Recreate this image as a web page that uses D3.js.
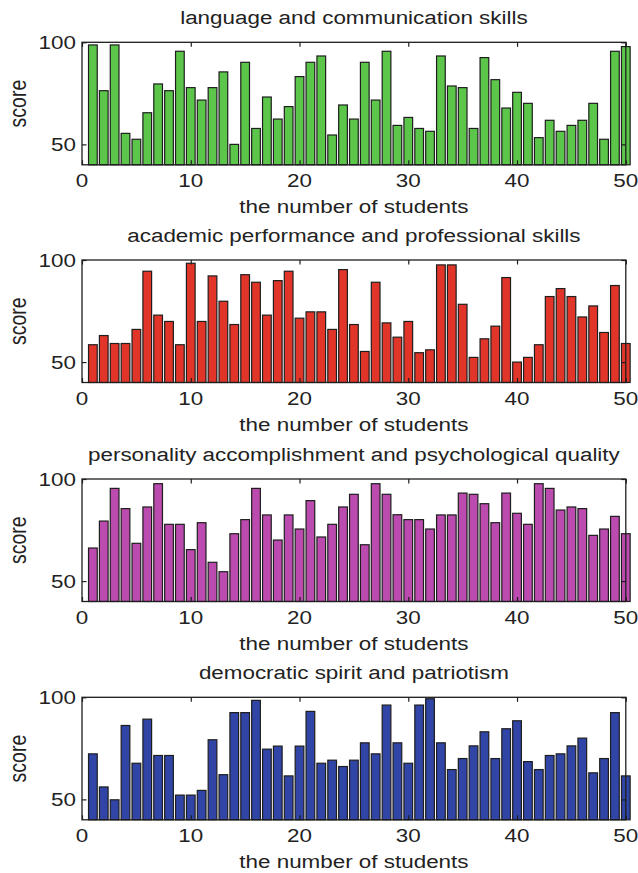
<!DOCTYPE html>
<html>
<head>
<meta charset="utf-8">
<script src="https://cdn.jsdelivr.net/npm/d3@7"></script>
<style>
  html, body { margin: 0; padding: 0; background: #fff; }
  text { font-family: "Liberation Sans", Arial, Helvetica, sans-serif; fill: #222; }
</style>
</head>
<body>
<svg id="chart" width="638" height="873"></svg>
<script>
// ---- data ----
const students = d3.range(1, 51);
const titles = [
  "language and communication skills",
  "academic performance and professional skills",
  "personality accomplishment and psychological quality",
  "democratic spirit and patriotism"
];
const language = [98.7,76.3,98.7,55.4,52.5,65.5,79.6,76.3,95.6,77.8,
  71.7,77.8,85.5,50,90.2,57.8,73.2,62.4,68.5,83.2,
  90.2,93.3,54.6,69.3,62.4,90.2,71.7,95.6,59.3,63.2,
  57.8,56.4,93.3,78.6,77.8,57.8,92.5,81.7,67.8,75.5,
  70.1,53.3,61.8,56.4,59.3,61.8,70.1,52.5,95.6,97.9];
const academic = [58.5,63.0,59.1,59.1,66.0,94.5,73.0,69.9,58.5,98.4,
  69.9,92.2,79.8,68.4,92.8,89.1,73.0,89.9,94.5,71.5,
  74.6,74.6,66.0,95.3,68.4,55.2,89.1,69.2,62.2,69.9,
  54.6,56.0,97.6,97.6,78.3,52.3,61.4,67.6,91.4,50.0,
  52.3,58.5,82.1,86.0,82.1,72.1,77.5,64.5,87.5,59.1];
const personality = [66.2,79.4,95.4,85.5,68.5,86.3,97.7,77.8,77.8,65.4,
  78.6,59.2,54.6,73.2,80.1,95.4,82.4,70.1,82.4,75.5,
  89.4,71.6,77.8,86.3,92.5,67.8,97.7,92.5,82.5,80.1,
  80.1,75.5,82.4,82.4,93.1,92.5,87.9,78.6,93.1,83.2,
  77.8,97.7,95.4,84.8,86.3,85.5,72.4,75.5,81.7,73.2];
const democratic = [72.3,56.1,49.8,86.2,67.7,89.3,71.5,71.5,52.1,52.1,
  54.4,79.2,62.1,92.5,92.5,98.5,74.6,76.1,61.5,76.1,
  93.1,67.7,69.2,66.1,69.2,77.7,72.3,96.2,77.7,67.7,
  96.2,99.3,77.7,64.6,70.0,76.2,83.1,70.0,84.6,88.5,
  68.5,64.6,71.5,72.3,76.2,80.0,63.0,70.0,92.5,61.5];
const xTicks = [0, 10, 20, 30, 40, 50];
const yTicks = [50, 100];
const xLabel = "the number of students";
const yLabel = "score";

// ---- layout / style ----
const series = [language, academic, personality, democratic];
const colors = ["#5cc64a", "#e2352a", "#bb4bae", "#3045a5"];
const panelTops = [42.3, 260, 479, 697.3];
const panelH = 122.5;
const left = 82, right = 625.8;
const fs = 19, sx = 1.18;
const ink = "#1e1e1e";

const svg = d3.select("#chart");
const x = d3.scaleLinear().domain([0, 50]).range([left, right]);
const bw = 0.8 * (x(1) - x(0));

function stext(g, txt, tx, ty, anchor, size, rotate) {
  const t = g.append("text")
    .attr("transform", `translate(${tx},${ty}) scale(${sx},1)` + (rotate ? " rotate(-90)" : ""))
    .attr("text-anchor", anchor)
    .style("font-size", size + "px")
    .text(txt);
  return t;
}

series.forEach((vals, i) => {
  const top = panelTops[i], bottom = top + panelH;
  const y = d3.scaleLinear().domain([40, 100]).range([bottom, top]);
  const g = svg.append("g");

  // bars
  g.selectAll("rect.bar").data(students).join("rect")
    .attr("class", "bar")
    .attr("x", d => x(d) - bw / 2)
    .attr("width", bw)
    .attr("y", d => y(vals[d - 1]))
    .attr("height", d => y(40) - y(vals[d - 1]))
    .attr("fill", colors[i])
    .attr("stroke", ink)
    .attr("stroke-width", 1.2);

  // box
  g.append("rect")
    .attr("x", left).attr("y", top)
    .attr("width", right - left).attr("height", panelH)
    .attr("fill", "none").attr("stroke", ink).attr("stroke-width", 1.3);

  // inward ticks via axes
  const tl = 4.5;
  const axB = d3.axisBottom(x).tickValues(xTicks).tickSize(-tl).tickFormat("");
  const axT = d3.axisTop(x).tickValues(xTicks).tickSize(-tl).tickFormat("");
  const axL = d3.axisLeft(y).tickValues(yTicks).tickSize(-tl).tickFormat("");
  const axR = d3.axisRight(y).tickValues(yTicks).tickSize(-tl).tickFormat("");
  [[axB, `translate(0,${bottom})`], [axT, `translate(0,${top})`],
   [axL, `translate(${left},0)`], [axR, `translate(${right},0)`]].forEach(([ax, tr]) => {
    const a = g.append("g").attr("transform", tr).call(ax);
    a.select(".domain").remove();
    a.selectAll("line").attr("stroke", ink).attr("stroke-width", 1.2);
  });

  // tick labels
  xTicks.forEach(v => stext(g, String(v), x(v), bottom + 22.5, "middle", fs));
  yTicks.forEach(v => stext(g, String(v), left - 6, y(v) + 6.5, "end", fs));

  // labels
  stext(g, titles[i], (left + right) / 2, top - 18, "middle", fs);
  stext(g, xLabel, (left + right) / 2, bottom + 48, "middle", fs);
  stext(g, yLabel, 25.5, (top + bottom) / 2, "middle", fs + 0.5, true);
});
</script>
</body>
</html>
